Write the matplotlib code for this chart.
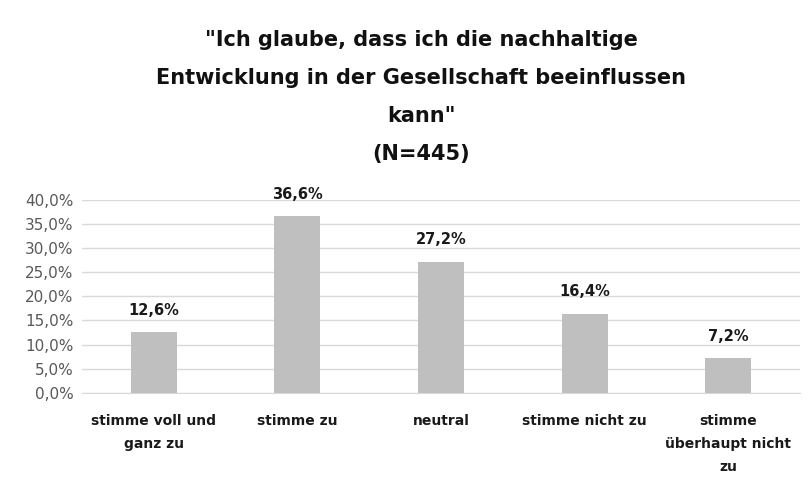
import matplotlib.pyplot as plt
from matplotlib.ticker import FuncFormatter

# Data
categories = ["stimme voll und\nganz zu", "stimme zu", "neutral",
              "stimme nicht zu", "stimme\nüberhaupt nicht\nzu"]
values = [12.6, 36.6, 27.2, 16.4, 7.2]
value_labels = ["12,6%", "36,6%", "27,2%", "16,4%", "7,2%"]
title = '"Ich glaube, dass ich die nachhaltige\nEntwicklung in der Gesellschaft beeinflussen\nkann"\n(N=445)'

fig = plt.figure(figsize=(8.1, 4.78), dpi=100)
ax = fig.add_axes([0.101, 0.178, 0.887, 0.404])

x = range(len(categories))
ax.bar(x, values, width=0.32, color="#bfbfbf", zorder=3)

for xi, v, lab in zip(x, values, value_labels):
    ax.text(xi, v + 3.0, lab, ha="center", va="bottom", fontsize=10.5,
            fontweight="bold", color="#1a1a1a")

ax.set_ylim(0, 40)
ax.set_xlim(-0.5, len(categories) - 0.5)
ax.set_yticks(range(0, 41, 5))
ax.yaxis.set_major_formatter(FuncFormatter(lambda v, p: f"{v:.1f}%".replace(".", ",")))
ax.tick_params(axis="y", length=0, labelsize=11, labelcolor="#595959", pad=6)
ax.tick_params(axis="x", length=0, pad=15)
ax.set_xticks(list(x))
ax.set_xticklabels(categories, fontsize=10, fontweight="bold",
                   family=["Liberation Sans Narrow", "DejaVu Sans"], color="#1a1a1a",
                   linespacing=1.85)
ax.grid(axis="y", color="#d9d9d9", linewidth=1, zorder=0)
for s in ["top", "right", "left"]:
    ax.spines[s].set_visible(False)
ax.spines["bottom"].set_color("#d9d9d9")

fig.text(0.52, 0.937, title, ha="center", va="top", fontsize=15,
         fontweight="bold", color="#111111", linespacing=2.12)

fig.savefig("out.png", dpi=100)
